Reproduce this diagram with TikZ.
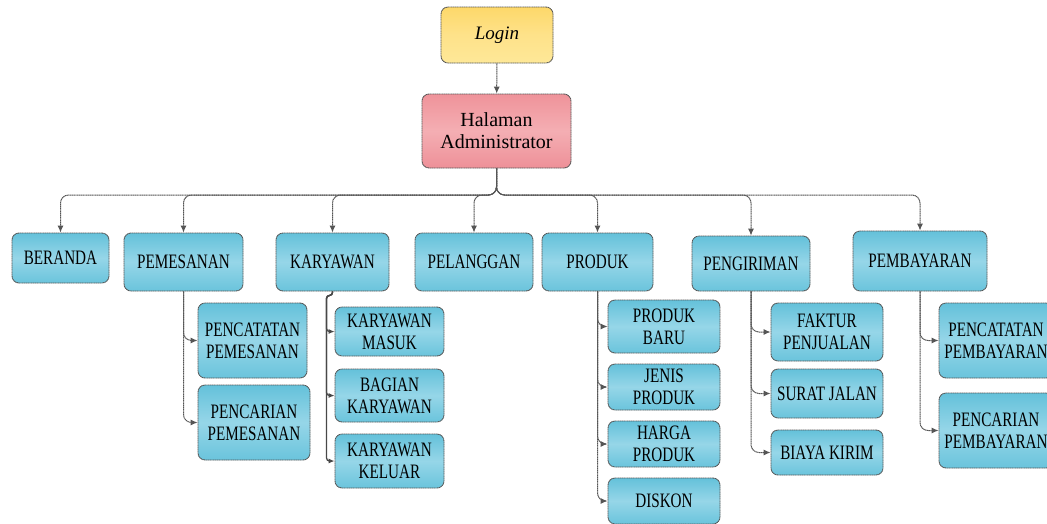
\documentclass[tikz,border=0pt]{standalone}
\usepackage{fontspec}
\setmainfont{Liberation Serif}
\newfontfamily\lblfont[FakeStretch=0.74]{Liberation Serif}
\usetikzlibrary{arrows.meta}
\definecolor{edge}{HTML}{555555}
\definecolor{blueTop}{HTML}{64C1DA}
\definecolor{blueMid}{HTML}{96D6E8}
\definecolor{blueBot}{HTML}{6AC4DC}
\definecolor{pinkTop}{HTML}{EF939A}
\definecolor{pinkMid}{HTML}{F4AEB3}
\definecolor{pinkBot}{HTML}{EE9098}
\definecolor{yelTop}{HTML}{FDD86A}
\definecolor{yelMid}{HTML}{FEE28A}
\definecolor{yelBot}{HTML}{FEE898}
\tikzset{
  boxbase/.style={draw=edge, line width=0.9pt, dash pattern=on 1.3pt off 0.5pt,
    rounded corners=7pt, align=center, inner sep=0pt,
    minimum width=#1},
  menubox/.style={boxbase=#1, top color=blueTop, bottom color=blueBot, middle color=blueMid,
    font=\lblfont\fontsize{20.5}{22}\selectfont},
  conn/.style={draw=edge, line width=1pt, dash pattern=on 1.3pt off 0.5pt,
    rounded corners=8pt, -{Latex[length=7pt,width=6pt]}},
  trunk/.style={draw=edge!85!black, line width=1.3pt, rounded corners=3pt,
    -{Latex[length=6pt,width=5pt]}}
}
\begin{document}
\begin{tikzpicture}[x=1pt,y=-1pt]
\clip (0,0) rectangle (1047,523);
\fill[white] (0,0) rectangle (1047,523);

% top of the hierarchy
\node[boxbase=112, minimum height=56, top color=yelTop, bottom color=yelBot, middle color=yelMid,
  font=\itshape\fontsize{19}{22}\selectfont] (login) at (497,35) {Login};
\node[boxbase=149, minimum height=74, top color=pinkTop, bottom color=pinkBot, middle color=pinkMid,
  font=\fontsize{20}{22}\selectfont] (admin) at (496.5,131) {Halaman\\Administrator};
\coordinate (bus) at (496.5,195);

% main menu
\node[menubox=97,  minimum height=50] (beranda)    at (60.5,258)  {BERANDA};
\node[menubox=119, minimum height=58] (pemesanan)  at (183.5,262) {PEMESANAN};
\node[menubox=113, minimum height=58] (karyawan)   at (332.5,262) {KARYAWAN};
\node[menubox=118, minimum height=58] (pelanggan)  at (474,262)   {PELANGGAN};
\node[menubox=111, minimum height=58] (produk)     at (597.5,262) {PRODUK};
\node[menubox=118, minimum height=55] (pengiriman) at (751,263.5) {PENGIRIMAN};
\node[menubox=134, minimum height=60] (pembayaran) at (920,261)   {PEMBAYARAN};

% sub menus
\node[menubox=109, minimum height=75] (pcpem)  at (252.5,340.5) {PENCATATAN\\PEMESANAN};
\node[menubox=112, minimum height=75] (pcrpem) at (254,422.5)   {PENCARIAN\\PEMESANAN};

\node[menubox=109, minimum height=49] (kmasuk)  at (389.5,331.5) {KARYAWAN\\MASUK};
\node[menubox=109, minimum height=53] (kbagian) at (389.5,395.5) {BAGIAN\\KARYAWAN};
\node[menubox=109, minimum height=54] (kkeluar) at (389.5,461)   {KARYAWAN\\KELUAR};

\node[menubox=112, minimum height=53] (pbaru)  at (664,326.5) {PRODUK\\BARU};
\node[menubox=112, minimum height=46] (pjenis) at (664,387)   {JENIS\\PRODUK};
\node[menubox=112, minimum height=46] (pharga) at (664,444)   {HARGA\\PRODUK};
\node[menubox=112, minimum height=46] (diskon) at (664,501)   {DISKON};

\node[menubox=112, minimum height=58] (faktur) at (827,332)   {FAKTUR\\PENJUALAN};
\node[menubox=112, minimum height=49] (surat)  at (827,393.5) {SURAT JALAN};
\node[menubox=112, minimum height=45] (biaya)  at (827,452.5) {BIAYA KIRIM};

\node[menubox=114, minimum height=75] (pcpby)  at (996,340.5) {PENCATATAN\\PEMBAYARAN};
\node[menubox=114, minimum height=75] (pcrpby) at (996,430.5) {PENCARIAN\\PEMBAYARAN};

% connectors
\draw[conn] (login) -- (admin);
\foreach \n in {beranda,pemesanan,karyawan,pelanggan,produk,pengiriman,pembayaran}
  \draw[conn] (admin.south) -- (bus) -| (\n.north);

\foreach \n in {pcpem,pcrpem}
  \draw[conn] (pemesanan.south) |- (\n.west);
\foreach \n in {kmasuk,kbagian,kkeluar}
  \draw[trunk] (karyawan.south) -- ++(0,4) -- ++(-6,0) |- (\n.west);
\foreach \n in {pbaru,pjenis,pharga,diskon}
  \draw[conn] (produk.south) |- (\n.west);
\foreach \n in {faktur,surat,biaya}
  \draw[conn] (pengiriman.south) |- (\n.west);
\foreach \n in {pcpby,pcrpby}
  \draw[conn] (pembayaran.south) |- (\n.west);
\end{tikzpicture}
\end{document}
